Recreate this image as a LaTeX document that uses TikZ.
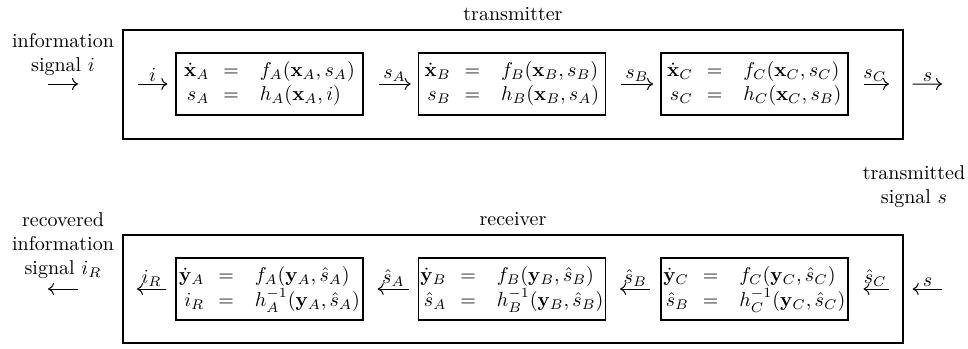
\documentclass[tikz,border=0pt]{standalone}
\usepackage{amsmath,amssymb}
\usepackage{tikz}
\usetikzlibrary{arrows.meta,positioning}

\newcommand{\blockeqs}[6]{$\begin{array}{@{}r@{\hspace{7pt}}c@{\hspace{10.5pt}}l@{}}
  #1 & #2 & #3\\
  #4 & #5 & #6
\end{array}$}

\begin{document}
\begin{tikzpicture}[x=0.5pt,y=-0.5pt,node distance=27pt,>={To[length=3pt,width=6pt]},
  outerbox/.style={draw,line width=0.7pt,minimum width=390pt,inner sep=0pt},
  blockbox/.style={draw,line width=0.7pt,minimum width=93.5pt,minimum height=31pt,
                   inner sep=0pt,align=center},
  sigarrow/.style={->,line width=0.5pt},
  siglabel/.style={above,inner sep=1.2pt}]
  \useasboundingbox (0,0) rectangle (968,348);

  \node[outerbox,minimum height=54.5pt] (tx) at (513,84.5) {};
  \node (txname) at (513,14) {transmitter};
  \node[blockbox] (txA) at (269.5,84)
    {\blockeqs{\dot{\mathbf{x}}_A}{=}{f_A(\mathbf{x}_A,s_A)}{s_A}{=}{h_A(\mathbf{x}_A,i)}};
  \node[blockbox,right=of txA] (txB)
    {\blockeqs{\dot{\mathbf{x}}_B}{=}{f_B(\mathbf{x}_B,s_B)}{s_B}{=}{h_B(\mathbf{x}_B,s_A)}};
  \node[blockbox,right=of txB] (txC)
    {\blockeqs{\dot{\mathbf{x}}_C}{=}{f_C(\mathbf{x}_C,s_C)}{s_C}{=}{h_C(\mathbf{x}_C,s_B)}};

  \node[outerbox,minimum height=54pt] (rx) at (513,289) {};
  \node (rxname) at (513,219) {receiver};
  \node[blockbox] (rxA) at (269.5,289)
    {\blockeqs{\dot{\mathbf{y}}_A}{=}{f_A(\mathbf{y}_A,\hat{s}_A)}{i_R}{=}{h_A^{-1}(\mathbf{y}_A,\hat{s}_A)}};
  \node[blockbox,right=of rxA] (rxB)
    {\blockeqs{\dot{\mathbf{y}}_B}{=}{f_B(\mathbf{y}_B,\hat{s}_B)}{\hat{s}_A}{=}{h_B^{-1}(\mathbf{y}_B,\hat{s}_B)}};
  \node[blockbox,right=of rxB] (rxC)
    {\blockeqs{\dot{\mathbf{y}}_C}{=}{f_C(\mathbf{y}_C,\hat{s}_C)}{\hat{s}_B}{=}{h_C^{-1}(\mathbf{y}_C,\hat{s}_C)}};

  \node[align=center] (infoin) at (63,54.5) {information\\signal $i$};
  \node[align=center] (infoout) at (63,245.5) {recovered\\information\\signal $i_R$};
  \node[align=center] (sent) at (914,187) {transmitted\\signal $s$};

  \coordinate (infoinL) at (48,84);
  \coordinate (infoinR) at (78,84);
  \coordinate (txin) at (138,84);
  \coordinate (txout) at (889,84);
  \coordinate (sout) at (942,84);
  \coordinate (sin) at (942,289);
  \coordinate (rxin) at (889,289);
  \coordinate (rxout) at (137,289);
  \coordinate (infooutR) at (78,289);
  \coordinate (infooutL) at (48,289);

  \draw[sigarrow] (infoinL) -- (infoinR);
  \draw[sigarrow,shorten >=4pt] (txin) -- node[siglabel,pos=0.39] {$i$} (txA);
  \draw[sigarrow,shorten <=7.5pt,shorten >=3.5pt] (txA) -- node[siglabel,pos=0.57] {$s_A$} (txB);
  \draw[sigarrow,shorten <=7.5pt,shorten >=3.5pt] (txB) -- node[siglabel,pos=0.57] {$s_B$} (txC);
  \draw[sigarrow,shorten <=7.5pt] (txC) -- node[siglabel,pos=0.65] {$s_C$} (txout);
  \draw[sigarrow,shorten <=4.5pt] (tx) -- node[siglabel,pos=0.62] {$s$} (sout);

  \draw[sigarrow,shorten >=4.5pt] (sin) -- node[siglabel,pos=0.38] {$s$} (rx);
  \draw[sigarrow,shorten >=7.5pt] (rxin) -- node[siglabel,pos=0.34] {$\hat{s}_C$} (rxC);
  \draw[sigarrow,shorten <=5pt,shorten >=7pt] (rxC) -- node[siglabel,pos=0.46] {$\hat{s}_B$} (rxB);
  \draw[sigarrow,shorten <=4.5pt,shorten >=7pt] (rxB) -- node[siglabel,pos=0.45] {$\hat{s}_A$} (rxA);
  \draw[sigarrow,shorten <=4.5pt] (rxA) -- node[siglabel,pos=0.62] {$i_R$} (rxout);
  \draw[sigarrow] (infooutR) -- (infooutL);
\end{tikzpicture}
\end{document}
